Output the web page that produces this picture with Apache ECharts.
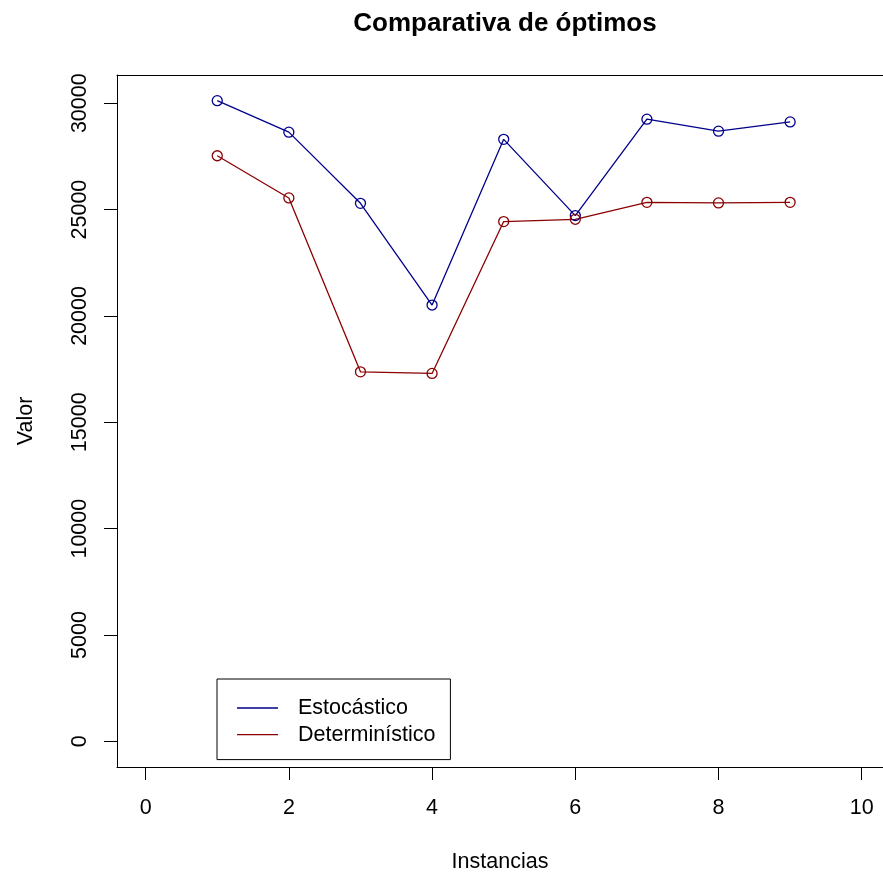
<!DOCTYPE html>
<html>
<head>
<meta charset="utf-8">
<script src="https://cdn.jsdelivr.net/npm/echarts@6/dist/echarts.min.js"></script>
<style>
  html, body { margin: 0; padding: 0; background: #fff; }
  #chart { width: 883px; height: 878px; }
</style>
</head>
<body>
<div id="chart"></div>
<script>
// Instance numbers and the best value found by each method
const instancias = [1, 2, 3, 4, 5, 6, 7, 8, 9];
const estocastico = [30122, 28641, 25294, 20513, 28303, 24717, 29250, 28688, 29123];
const deterministico = [27530, 25547, 17372, 17297, 24436, 24544, 25341, 25313, 25341];

// Tick labels on each axis
const xTicks = [0, 2, 4, 6, 8, 10];
const yTicks = [0, 5000, 10000, 15000, 20000, 25000, 30000];

const font = '"Liberation Sans", Arial, Helvetica, sans-serif';
const FS = 21.5;

const pairs = (ys) => instancias.map((x, i) => [x, ys[i]]);

const chart = echarts.init(document.getElementById('chart'), null, { renderer: 'canvas' });

const tickStyle = { color: '#000', width: 1 };

chart.setOption({
  backgroundColor: '#ffffff',
  animation: false,
  title: {
    text: 'Comparativa de óptimos',
    left: 500,
    top: 6,
    textAlign: 'center',
    textStyle: { fontFamily: font, fontSize: 26, fontWeight: 'bold', color: '#000' }
  },
  grid: {
    left: 117,
    right: 0,
    top: 75,
    bottom: 109,
    show: false
  },
  legend: {
    orient: 'vertical',
    left: 217,
    top: 679,
    padding: [18, 15, 14, 20],
    itemGap: 4.6,
    itemWidth: 41,
    itemHeight: 1.3,
    icon: 'rect',
    borderColor: '#000',
    borderWidth: 1,
    backgroundColor: '#fff',
    textStyle: { fontFamily: font, fontSize: FS, color: '#000', lineHeight: 22, padding: [0, 0, 0, 15] },
    data: [
      { name: 'Estocástico', itemStyle: { color: '#00008B', borderWidth: 0 } },
      { name: 'Determinístico', itemStyle: { color: '#8B0000', borderWidth: 0 } }
    ]
  },
  xAxis: [
    {
      type: 'value',
      min: -0.4,
      max: 10.297,
      name: 'Instancias',
      nameLocation: 'middle',
      nameGap: 84,
      nameTextStyle: { fontFamily: font, fontSize: FS, color: '#000' },
      axisLine: { show: true, onZero: false, lineStyle: { color: '#000', width: 1 } },
      splitLine: { show: false },
      axisTick: { show: true, inside: false, length: 13, lineStyle: tickStyle, customValues: xTicks },
      axisLabel: { fontFamily: font, fontSize: FS, color: '#000', margin: 30, customValues: xTicks, formatter: (v) => String(v) }
    },
    {
      // top edge of the plot frame
      type: 'value',
      position: 'top',
      min: -0.4,
      max: 10.297,
      axisLine: { show: true, onZero: false, lineStyle: { color: '#000', width: 1 } },
      axisTick: { show: false },
      axisLabel: { show: false },
      splitLine: { show: false }
    }
  ],
  yAxis: {
    type: 'value',
    min: -1205,
    max: 31327,
    name: 'Valor',
    nameLocation: 'middle',
    nameGap: 80,
    nameRotate: 90,
    nameTextStyle: { fontFamily: font, fontSize: FS, color: '#000' },
    axisLine: { show: true, onZero: false, lineStyle: { color: '#000', width: 1 } },
    splitLine: { show: false },
    axisTick: { show: true, inside: false, length: 13, lineStyle: tickStyle, customValues: yTicks },
    axisLabel: { fontFamily: font, fontSize: FS, color: '#000', rotate: 90, margin: 26, customValues: yTicks, formatter: (v) => String(v) }
  },
  series: [
    {
      name: 'Estocástico',
      type: 'line',
      xAxisIndex: 0,
      data: pairs(estocastico),
      symbol: 'circle',
      symbolSize: 10,
      showAllSymbol: true,
      color: '#00008B',
      lineStyle: { color: '#00008B', width: 1.3 },
      itemStyle: { color: 'transparent', borderColor: '#00008B', borderWidth: 1.3 }
    },
    {
      name: 'Determinístico',
      type: 'line',
      xAxisIndex: 0,
      data: pairs(deterministico),
      symbol: 'circle',
      symbolSize: 10,
      showAllSymbol: true,
      color: '#8B0000',
      lineStyle: { color: '#8B0000', width: 1.3 },
      itemStyle: { color: 'transparent', borderColor: '#8B0000', borderWidth: 1.3 }
    }
  ]
});
</script>
</body>
</html>
